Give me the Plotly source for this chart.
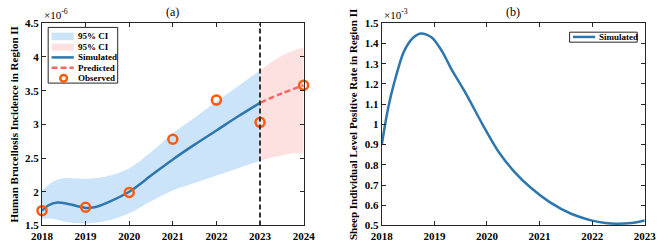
import plotly.graph_objects as go

# ---------------- Panel (a) data (values in units of 1e-6) ----------------
sim_years = [2018.0, 2018.15, 2018.35, 2018.6, 2018.85, 2019.0, 2019.2, 2019.5, 2020.0, 2020.5, 2021.0, 2021.5, 2022.0, 2022.5, 2023.0]
sim_vals = [1.72, 1.80, 1.84, 1.82, 1.78, 1.76, 1.77, 1.84, 2.00, 2.24, 2.48, 2.70, 2.91, 3.12, 3.32]

ci_years = [2018.0, 2018.25, 2018.5, 2019.0, 2019.5, 2020.0, 2020.5, 2021.0, 2021.5, 2022.0, 2022.5, 2023.0]
ci_upper = [2.02, 2.15, 2.20, 2.19, 2.23, 2.35, 2.59, 2.87, 3.10, 3.34, 3.57, 3.80]
ci_lower = [1.60, 1.60, 1.56, 1.53, 1.57, 1.68, 1.86, 2.02, 2.13, 2.24, 2.35, 2.46]

pred_years = [2023.0, 2023.5, 2024.0]
pred_vals = [3.32, 3.46, 3.58]
pci_years = [2023.0, 2023.25, 2023.5, 2023.75, 2024.0]
pci_upper = [3.80, 3.92, 4.02, 4.09, 4.14]
pci_lower = [2.46, 2.51, 2.54, 2.57, 2.58]

obs_years = [2018, 2019, 2020, 2021, 2022, 2023, 2024]
obs_vals = [1.72, 1.77, 1.99, 2.78, 3.36, 3.03, 3.58]

split_year = 2023

# ---------------- Panel (b) data (values in units of 1e-3) ----------------
sheep_years = [2018.0, 2018.05, 2018.12, 2018.23, 2018.42, 2018.6, 2018.75, 2018.95, 2019.15, 2019.31, 2019.61,
               2019.92, 2020.22, 2020.53, 2020.84, 2021.2, 2021.6, 2022.0, 2022.25, 2022.46, 2022.75, 2023.0]
sheep_vals = [0.90, 0.98, 1.08, 1.20, 1.36, 1.43, 1.45, 1.43, 1.36, 1.28, 1.147,
              0.998, 0.865, 0.763, 0.685, 0.614, 0.558, 0.524, 0.512, 0.508, 0.512, 0.525]

x_ticks_a = [2018, 2019, 2020, 2021, 2022, 2023, 2024]
y_ticks_a = [1.5, 2, 2.5, 3, 3.5, 4, 4.5]
x_ticks_b = [2018, 2019, 2020, 2021, 2022, 2023]
y_ticks_b = [0.5, 0.6, 0.7, 0.8, 0.9, 1.0, 1.1, 1.2, 1.3, 1.4, 1.5]
y_ticktext_b = ["0.5", "0.6", "0.7", "0.8", "0.9", "1", "1.1", "1.2", "1.3", "1.4", "1.5"]

legend_a = ["95% CI", "95% CI", "Simulated", "Predicted", "Observed"]
legend_b = ["Simulated"]

BLUE = "#2e77ae"
BAND_BLUE = "#cce4fa"
BAND_PINK = "#fde1e1"
PRED = "#ff6464"
OBS = "#ff5a0a"
AX = "#262626"
FONT = "Liberation Serif"
W, H = 669, 249


def px(x):
    return x / W


def py(y):
    return 1 - y / H


fig = go.Figure()

# blue CI
fig.add_trace(go.Scatter(x=ci_years, y=ci_lower, mode="lines", line=dict(width=0, color=BAND_BLUE, shape="spline"),
                         showlegend=False, hoverinfo="skip", xaxis="x", yaxis="y"))
fig.add_trace(go.Scatter(x=ci_years, y=ci_upper, mode="lines", line=dict(width=0, color=BAND_BLUE, shape="spline"),
                         fill="tonexty", fillcolor=BAND_BLUE, showlegend=False, xaxis="x", yaxis="y"))
# pink CI
fig.add_trace(go.Scatter(x=pci_years, y=pci_lower, mode="lines", line=dict(width=0, color=BAND_PINK, shape="spline"),
                         showlegend=False, hoverinfo="skip", xaxis="x", yaxis="y"))
fig.add_trace(go.Scatter(x=pci_years, y=pci_upper, mode="lines", line=dict(width=0, color=BAND_PINK, shape="spline"),
                         fill="tonexty", fillcolor=BAND_PINK, showlegend=False, xaxis="x", yaxis="y"))
# simulated
fig.add_trace(go.Scatter(x=sim_years, y=sim_vals, mode="lines", line=dict(color=BLUE, width=2.5, shape="spline"),
                         showlegend=False, xaxis="x", yaxis="y"))
# predicted
fig.add_trace(go.Scatter(x=pred_years, y=pred_vals, mode="lines",
                         line=dict(color=PRED, width=2.5, dash="6px,3px", shape="spline"),
                         showlegend=False, xaxis="x", yaxis="y"))
# observed
fig.add_trace(go.Scatter(x=obs_years, y=obs_vals, mode="markers",
                         marker=dict(symbol="circle-open", size=9, color=OBS, line=dict(width=2.5, color=OBS)),
                         showlegend=False, xaxis="x", yaxis="y", cliponaxis=False))

# panel b
fig.add_trace(go.Scatter(x=sheep_years, y=sheep_vals, mode="lines",
                         line=dict(color=BLUE, width=2.5, shape="spline", smoothing=0.8),
                         showlegend=False, xaxis="x2", yaxis="y2"))

axis_common = dict(showline=True, mirror="ticks", linecolor=AX, linewidth=1, ticks="inside",
                   ticklen=4, tickcolor=AX, showgrid=False, zeroline=False,
                   tickfont=dict(family=FONT, size=11, color="black", weight="bold"))

# ---------- legends drawn as shapes / annotations ----------
shapes = [dict(type="line", xref="x", yref="y", x0=split_year, x1=split_year, y0=1.5, y1=4.5,
               line=dict(color="#333333", width=2, dash="5px,3px"))]
annotations = []

# legend (a)
shapes.append(dict(type="rect", xref="paper", yref="paper", x0=px(38.5), x1=px(110.5), y0=py(81), y1=py(22.5),
                   line=dict(color=AX, width=1), fillcolor="white", layer="above"))
rows = [32, 43, 54, 65, 76]
shapes.append(dict(type="rect", xref="paper", yref="paper", x0=px(42), x1=px(65), y0=py(36), y1=py(28),
                   line=dict(width=0), fillcolor=BAND_BLUE, layer="above"))
shapes.append(dict(type="rect", xref="paper", yref="paper", x0=px(42), x1=px(65), y0=py(47), y1=py(39.5),
                   line=dict(width=0), fillcolor=BAND_PINK, layer="above"))
shapes.append(dict(type="line", xref="paper", yref="paper", x0=px(42), x1=px(65), y0=py(rows[2]), y1=py(rows[2]),
                   line=dict(color=BLUE, width=2.5), layer="above"))
shapes.append(dict(type="line", xref="paper", yref="paper", x0=px(42), x1=px(65), y0=py(rows[3]), y1=py(rows[3]),
                   line=dict(color=PRED, width=2.5, dash="6px,3px"), layer="above"))
shapes.append(dict(type="circle", xref="paper", yref="paper", x0=px(51), x1=px(58), y0=py(79.5), y1=py(72.5),
                   line=dict(color=OBS, width=2.5), layer="above"))
for label, ry in zip(legend_a, rows):
    annotations.append(dict(text=label, xref="paper", yref="paper", x=px(67.5), y=py(ry), xanchor="left",
                            yanchor="middle", showarrow=False,
                            font=dict(family=FONT, size=9, color="black", weight="bold")))

# legend (b)
shapes.append(dict(type="rect", xref="paper", yref="paper", x0=px(578.5), x1=px(648.5), y0=py(38), y1=py(27.5),
                   line=dict(color=AX, width=1), fillcolor="white", layer="above"))
shapes.append(dict(type="line", xref="paper", yref="paper", x0=px(582), x1=px(605), y0=py(32.5), y1=py(32.5),
                   line=dict(color=BLUE, width=2.5), layer="above"))
annotations.append(dict(text=legend_b[0], xref="paper", yref="paper", x=px(606.5), y=py(32.5), xanchor="left",
                        yanchor="middle", showarrow=False,
                        font=dict(family=FONT, size=9, color="black", weight="bold")))

annotations += [
    dict(text="(a)", xref="paper", yref="paper", x=0.2505, y=0.935, xanchor="center", yanchor="bottom",
         showarrow=False, font=dict(family=FONT, size=12, color="black")),
    dict(text="(b)", xref="paper", yref="paper", x=0.7775, y=0.935, xanchor="center", yanchor="bottom",
         showarrow=False, font=dict(family=FONT, size=12, color="black")),
    dict(text="×10<sup>-6</sup>", xref="paper", yref="paper", x=0.048, y=0.93, xanchor="left", yanchor="bottom",
         showarrow=False, font=dict(family=FONT, size=11, color="black")),
    dict(text="×10<sup>-3</sup>", xref="paper", yref="paper", x=0.574, y=0.93, xanchor="left", yanchor="bottom",
         showarrow=False, font=dict(family=FONT, size=11, color="black")),
]

fig.update_layout(
    width=W, height=H,
    margin=dict(l=0, r=0, t=0, b=0),
    paper_bgcolor="white", plot_bgcolor="white",
    font=dict(family=FONT, color="black"),
    showlegend=False,
    xaxis=dict(domain=[0.048, 0.453], range=[2018, 2024], tickvals=x_ticks_a, anchor="y", **axis_common),
    yaxis=dict(domain=[0.074, 0.927], range=[1.5, 4.5], tickvals=y_ticks_a, anchor="x",
               title=dict(text="Human Brucellosis Incidence in Region II", standoff=4,
                          font=dict(family=FONT, size=11, color="black", weight="bold")), **axis_common),
    xaxis2=dict(domain=[0.574, 0.981], range=[2018, 2023], tickvals=x_ticks_b, anchor="y2", **axis_common),
    yaxis2=dict(domain=[0.074, 0.927], range=[0.5, 1.5], tickvals=y_ticks_b, ticktext=y_ticktext_b, anchor="x2",
                title=dict(text="Sheep Individual Level Positive Rate in Region II", standoff=4,
                           font=dict(family=FONT, size=11, color="black", weight="bold")), **axis_common),
    shapes=shapes,
    annotations=annotations,
)

fig.write_html("out.html")
